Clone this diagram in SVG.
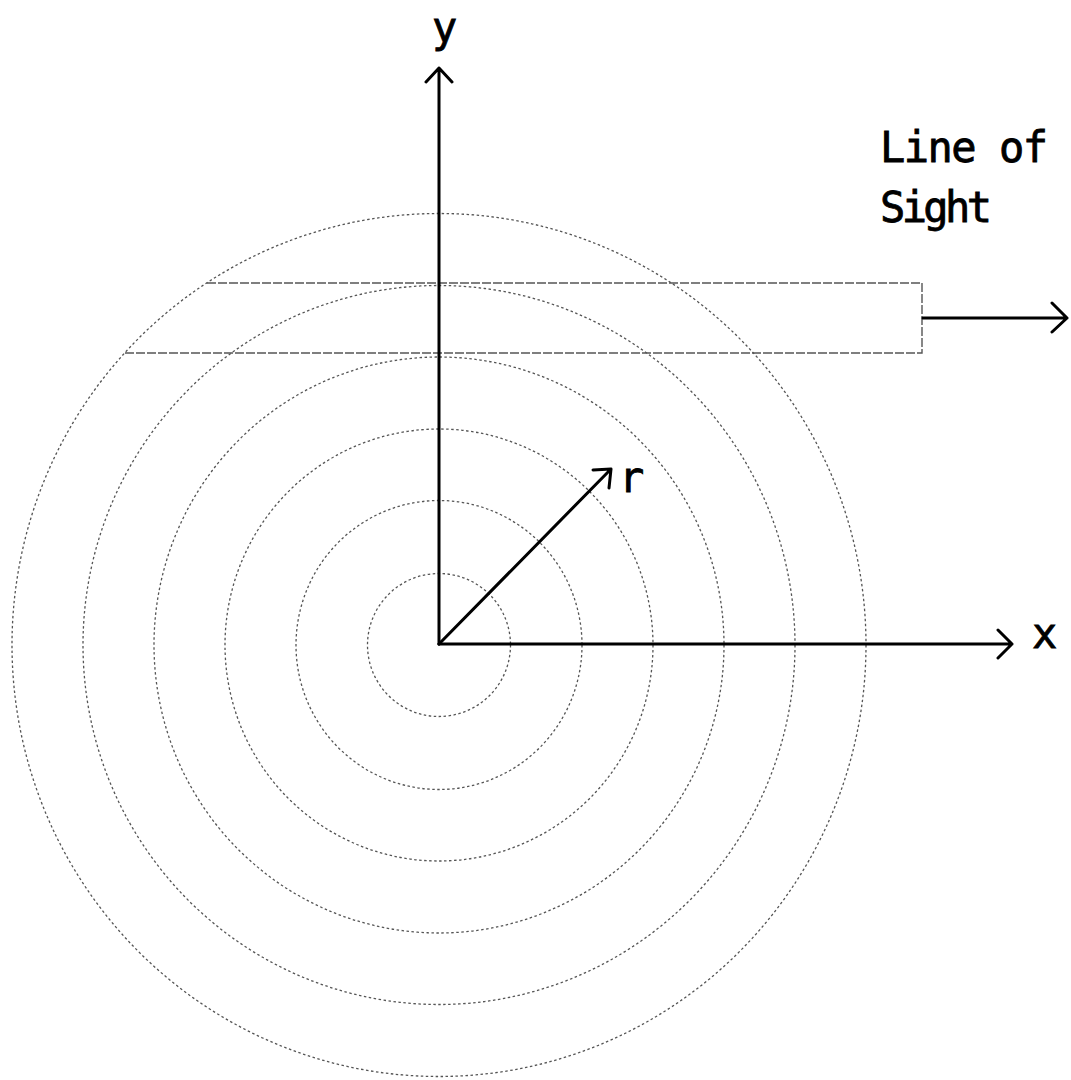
<svg xmlns="http://www.w3.org/2000/svg" width="1071" height="1080" viewBox="0 0 1071 1080">
<style>
.ring{fill:none;stroke:#555;stroke-width:1.3;stroke-dasharray:2.5 2.5}
.los{fill:none;stroke:#555;stroke-width:1.4;stroke-dasharray:9 2}
.ax{fill:none;stroke:#000;stroke-width:3;stroke-linecap:round;stroke-linejoin:round}
.lbl{font-family:"DejaVu Sans Mono","Liberation Mono",monospace;font-size:42px;fill:#000;stroke:#000;stroke-width:0.8}
</style>
<rect width="1071" height="1080" fill="#fff"/>
<g id="rings">
<ellipse class="ring" cx="439" cy="645" rx="71.5" ry="71.5"/>
<ellipse class="ring" cx="439" cy="645" rx="143" ry="144.5"/>
<ellipse class="ring" cx="439" cy="645" rx="214" ry="216"/>
<ellipse class="ring" cx="439" cy="645" rx="285" ry="288"/>
<ellipse class="ring" cx="439" cy="645" rx="356" ry="359.5"/>
<ellipse class="ring" cx="439" cy="645" rx="427" ry="431.5"/>
</g>
<g id="line-of-sight">
<polyline class="los" points="207,283 922,283 922,353 123,353"/>
</g>
<g id="connectors">
<path class="ax" d="M439,644 V68 M426,82 L439,68 L452,82"/>
<path class="ax" d="M439,644 H1012 M998,630 L1012,644 L998,658"/>
<path class="ax" d="M439,644 L611,469 M593,470 L611,469 L609,488"/>
<path class="ax" d="M923,318 H1067 M1052,303 L1067,318 L1052,332"/>
</g>
<g id="labels">
<text class="lbl" x="432" y="42">y</text>
<text class="lbl" x="1032" y="648">x</text>
<text class="lbl" x="619" y="492">r</text>
<text class="lbl" x="880" y="162" textLength="168">Line of</text>
<text class="lbl" x="880" y="222" textLength="112">Sight</text>
</g>
</svg>
